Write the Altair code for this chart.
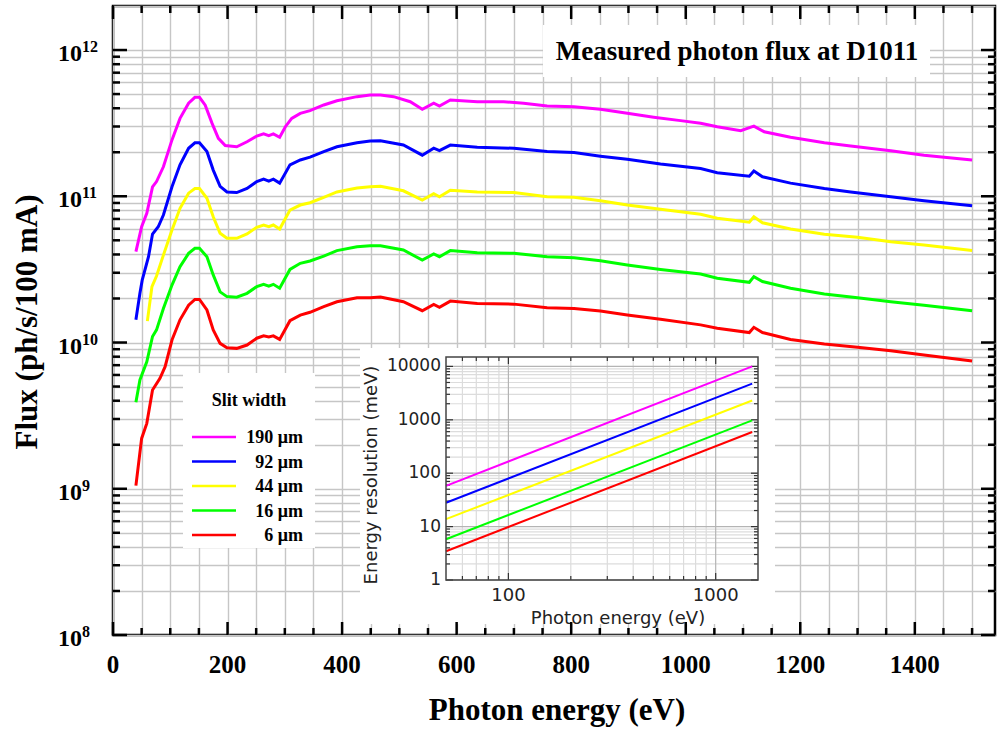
import altair as alt
import pandas as pd

# ---------------- data ----------------
slits = ["190 μm", "92 μm", "44 μm", "16 μm", "6 μm"]
colors = ["#ff00ff", "#0000ff", "#ffff00", "#00ff00", "#ff0000"]

e_190 = [40, 50, 59, 69, 76, 88, 103, 117, 132, 143, 151, 161, 173, 184, 196, 216, 234, 251, 263, 272,
         280, 291, 301, 312, 327, 344, 368, 391, 426, 449, 467, 490, 519, 540, 560, 570, 589, 636, 682, 717,
         758, 805, 851, 898, 944, 991, 1026, 1055, 1096, 1119, 1137, 1183, 1242, 1288, 1358, 1416, 1500]
f_190 = [4.18e10, 6.19e10, 7.65e10, 1.16e11, 1.26e11, 1.59e11, 2.43e11, 3.41e11, 4.33e11, 4.75e11,
         4.75e11, 4.20e11, 3.15e11, 2.49e11, 2.22e11, 2.18e11, 2.36e11, 2.58e11, 2.67e11, 2.60e11,
         2.67e11, 2.53e11, 2.99e11, 3.41e11, 3.69e11, 3.85e11, 4.21e11, 4.50e11, 4.80e11, 4.92e11,
         4.92e11, 4.80e11, 4.43e11, 3.93e11, 4.33e11, 4.14e11, 4.55e11, 4.43e11, 4.43e11, 4.33e11,
         4.14e11, 4.10e11, 3.93e11, 3.69e11, 3.47e11, 3.29e11, 3.16e11, 2.99e11, 2.81e11, 3.02e11,
         2.76e11, 2.53e11, 2.32e11, 2.21e11, 2.05e11, 1.91e11, 1.77e11]

e_92 = [40, 47, 51, 62, 69, 79, 88, 103, 117, 132, 143, 151, 164, 175, 187, 199, 216, 234, 251, 263,
        272, 280, 291, 309, 327, 344, 368, 391, 426, 449, 467, 507, 540, 560, 570, 589, 636, 700, 758, 805,
        851, 898, 956, 1026, 1055, 1111, 1119, 1134, 1183, 1242, 1288, 1358, 1416, 1500]
f_92 = [1.43e10, 2.17e10, 2.67e10, 3.86e10, 5.52e10, 6.19e10, 7.44e10, 1.16e11, 1.64e11, 2.13e11,
        2.32e11, 2.32e11, 2.02e11, 1.51e11, 1.17e11, 1.07e11, 1.06e11, 1.13e11, 1.26e11, 1.31e11,
        1.27e11, 1.31e11, 1.23e11, 1.64e11, 1.77e11, 1.85e11, 2.02e11, 2.18e11, 2.32e11, 2.39e11,
        2.40e11, 2.24e11, 1.91e11, 2.13e11, 2.05e11, 2.24e11, 2.16e11, 2.13e11, 2.02e11, 1.99e11,
        1.88e11, 1.79e11, 1.66e11, 1.55e11, 1.45e11, 1.37e11, 1.49e11, 1.36e11, 1.23e11, 1.13e11,
        1.07e11, 9.93e10, 9.33e10, 8.61e10]

e_44 = [60, 68, 76, 88, 103, 117, 132, 143, 151, 164, 175, 187, 199, 216, 234, 251, 263, 272, 280, 291,
        309, 327, 344, 368, 391, 426, 449, 467, 507, 540, 560, 570, 589, 636, 700, 758, 805, 851, 898, 956,
        1026, 1055, 1111, 1119, 1134, 1183, 1242, 1300, 1358, 1416, 1500]
f_44 = [1.40e10, 2.41e10, 2.85e10, 3.96e10, 5.87e10, 8.27e10, 1.05e11, 1.13e11, 1.13e11, 9.68e10,
        7.24e10, 5.58e10, 5.16e10, 5.16e10, 5.52e10, 6.14e10, 6.36e10, 6.19e10, 6.36e10, 5.97e10,
        8.05e10, 8.71e10, 9.03e10, 9.84e10, 1.07e11, 1.14e11, 1.16e11, 1.17e11, 1.09e11, 9.42e10,
        1.04e11, 9.93e10, 1.10e11, 1.07e11, 1.06e11, 9.93e10, 9.84e10, 9.33e10, 8.71e10, 8.14e10,
        7.53e10, 7.07e10, 6.64e10, 7.24e10, 6.59e10, 5.97e10, 5.49e10, 5.24e10, 4.89e10, 4.64e10,
        4.25e10]

e_16 = [40, 47, 59, 69, 76, 88, 103, 117, 132, 143, 151, 164, 175, 187, 199, 216, 234, 251, 263, 272,
        280, 291, 309, 327, 344, 368, 391, 426, 449, 467, 507, 540, 560, 570, 589, 636, 700, 758, 805, 851,
        898, 956, 1026, 1055, 1111, 1119, 1134, 1183, 1242, 1300, 1358, 1416, 1500]
f_16 = [3.90e9, 5.54e9, 7.39e9, 1.10e10, 1.22e10, 1.71e10, 2.47e10, 3.30e10, 4.07e10, 4.41e10,
        4.41e10, 3.86e10, 2.90e10, 2.22e10, 2.06e10, 2.04e10, 2.17e10, 2.41e10, 2.50e10, 2.43e10,
        2.50e10, 2.35e10, 3.16e10, 3.48e10, 3.61e10, 3.90e10, 4.25e10, 4.52e10, 4.59e10, 4.59e10,
        4.29e10, 3.66e10, 4.03e10, 3.86e10, 4.25e10, 4.11e10, 4.07e10, 3.86e10, 3.80e10, 3.62e10,
        3.39e10, 3.16e10, 2.94e10, 2.75e10, 2.58e10, 2.82e10, 2.61e10, 2.35e10, 2.15e10, 2.02e10,
        1.90e10, 1.80e10, 1.65e10]

e_6 = [40, 50, 59, 69, 82, 91, 103, 117, 132, 143, 151, 164, 175, 187, 199, 216, 234, 251, 263, 272,
       280, 291, 309, 327, 344, 368, 391, 426, 449, 467, 507, 540, 560, 570, 589, 636, 700, 758, 805, 851,
       898, 956, 1026, 1055, 1111, 1119, 1134, 1183, 1242, 1300, 1358, 1416, 1500]
f_6 = [1.05e9, 2.21e9, 2.80e9, 4.73e9, 5.69e9, 6.84e9, 1.04e10, 1.43e10, 1.80e10, 1.97e10,
       1.97e10, 1.67e10, 1.22e10, 9.87e9, 9.21e9, 9.12e9, 9.61e9, 1.07e10, 1.11e10, 1.09e10,
       1.11e10, 1.05e10, 1.41e10, 1.54e10, 1.61e10, 1.76e10, 1.90e10, 2.02e10, 2.02e10, 2.05e10,
       1.90e10, 1.65e10, 1.82e10, 1.74e10, 1.92e10, 1.85e10, 1.83e10, 1.73e10, 1.71e10, 1.64e10,
       1.54e10, 1.44e10, 1.32e10, 1.25e10, 1.17e10, 1.27e10, 1.17e10, 1.05e10, 9.77e9, 9.27e9,
       8.79e9, 8.22e9, 7.47e9]

# inset: energy resolution (meV) vs photon energy (eV)
inset_energy = [50, 1500]
res_190 = [58, 10000]
res_92 = [28, 4750]
res_44 = [13.8, 2300]
res_16 = [5.8, 975]
res_6 = [3.45, 590]

# axis ticks / labels
x_major = [0, 200, 400, 600, 800, 1000, 1200, 1400]
x_minor = [50, 100, 150, 250, 300, 350, 450, 500, 550, 650, 700, 750, 850, 900, 950,
           1050, 1100, 1150, 1250, 1300, 1350, 1450, 1500]
x_grid = sorted(x_major + x_minor)
y_major = [1e8, 1e9, 1e10, 1e11, 1e12]
y_exp = ["8", "9", "10", "11", "12"]
y_minor = [m * d for d in [1e8, 1e9, 1e10, 1e11] for m in range(2, 10)]
y_grid = sorted(y_major + y_minor + [2e12])

in_x_major = [100, 1000]
in_x_minor = [60, 70, 80, 90, 200, 300, 400, 500, 600, 700, 800, 900]
in_y_major = [1, 10, 100, 1000, 10000]
in_y_labels = ["1", "10", "100", "1000", "10000"]
in_y_minor = [m * d for d in [1, 10, 100, 1000] for m in range(2, 10)]

# ---------------- layout constants ----------------
W, H = 882, 629
SERIF = "Liberation Serif"
SANS = "DejaVu Sans"
GRID = "#c6c6c6"
X_DOMAIN = [0, 1540]
Y_DOMAIN = [1e8, 2e12]

color_enc = alt.Color("slit:N", scale=alt.Scale(domain=slits, range=colors), legend=None)

x_axis = alt.Axis(values=x_grid, grid=True, gridColor=GRID, gridWidth=1.4, labels=False,
                  ticks=False, domain=False, title=None)
y_axis = alt.Axis(values=y_grid, grid=True, gridColor=GRID, gridWidth=1.4, labels=False,
                  ticks=False, domain=False, title=None)


def XM():
    return alt.X("energy:Q", scale=alt.Scale(domain=X_DOMAIN, nice=False, zero=False), axis=x_axis)


def YM():
    return alt.Y("flux:Q", scale=alt.Scale(type="log", domain=Y_DOMAIN, nice=False), axis=y_axis)


def XT():
    return alt.X("tx:Q", scale=alt.Scale(domain=X_DOMAIN, nice=False, zero=False), axis=None)


def YT():
    return alt.Y("ty:Q", scale=alt.Scale(type="log", domain=Y_DOMAIN, nice=False), axis=None)


curves = pd.concat([
    pd.DataFrame({"slit": s, "energy": e, "flux": f})
    for s, e, f in zip(slits, [e_190, e_92, e_44, e_16, e_6], [f_190, f_92, f_44, f_16, f_6])
])

one = pd.DataFrame({"t": [""]})

lines = alt.Chart(curves).mark_line(strokeWidth=3).encode(
    x=XM(), y=YM(), color=color_enc, detail="slit:N")

x_labels = alt.Chart(pd.DataFrame({"energy": x_major})).mark_text(
    font=SERIF, fontWeight="bold", fontSize=25, baseline="alphabetic", align="center", color="black"
).encode(x=XM(), y=alt.value(667), text=alt.Text("energy:Q", format="d"))

ydf = pd.DataFrame({"flux": y_major, "exp": y_exp, "ten": ["10"] * len(y_major)})
y_ten = alt.Chart(ydf).mark_text(
    font=SERIF, fontWeight="bold", fontSize=24, baseline="alphabetic", align="left", dy=11, color="black"
).encode(y=YM(), x=alt.value(-55), text="ten:N")
y_sup = alt.Chart(ydf).mark_text(
    font=SERIF, fontWeight="bold", fontSize=16, baseline="alphabetic", align="left", dy=2, color="black"
).encode(y=YM(), x=alt.value(-31), text="exp:N")

x_title = alt.Chart(pd.DataFrame({"t": ["Photon energy (eV)"]})).mark_text(
    font=SERIF, fontWeight="bold", fontSize=31, baseline="alphabetic", align="center", color="black"
).encode(x=alt.value(444), y=alt.value(714), text="t:N")
y_title = alt.Chart(pd.DataFrame({"t": ["Flux (ph/s/100 mA)"]})).mark_text(
    font=SERIF, fontWeight="bold", fontSize=31, baseline="alphabetic", align="center", angle=270,
    color="black"
).encode(x=alt.value(-76), y=alt.value(316), text="t:N")

title_box = alt.Chart(one).mark_rect(color="white").encode(
    x=alt.value(430), x2=alt.value(817), y=alt.value(19), y2=alt.value(71))
title_text = alt.Chart(pd.DataFrame({"t": ["Measured photon flux at D1011"]})).mark_text(
    font=SERIF, fontWeight="bold", fontSize=27, baseline="alphabetic", align="center", color="black"
).encode(x=alt.value(624), y=alt.value(54), text="t:N")

main = alt.layer(lines, x_labels, y_ten, y_sup, x_title, y_title, title_box, title_text)

# ---------------- frame ticks (inward, on all four sides) ----------------
TICK = "#000000"


def xticks(vals, y0, y1):
    return alt.Chart(pd.DataFrame({"tx": vals})).mark_rule(color=TICK, strokeWidth=2.5).encode(
        x=XT(), y=alt.value(y0), y2=alt.value(y1))


def yticks(vals, x0, x1):
    return alt.Chart(pd.DataFrame({"ty": vals})).mark_rule(color=TICK, strokeWidth=2.5).encode(
        y=YT(), x=alt.value(x0), x2=alt.value(x1))


frame_ticks = alt.layer(
    xticks(x_major, H, H - 13), xticks(x_minor, H, H - 7),
    xticks(x_major, 0, 13), xticks(x_minor, 0, 7),
    yticks(y_major, 0, 14), yticks(y_minor, 0, 7),
    yticks(y_major, W, W - 14), yticks(y_minor, W, W - 7),
)

# ---------------- inset ----------------
IX0, IX1 = 333, 645
IY0, IY1 = 574, 351


def XI():
    return alt.X("ie:Q", scale=alt.Scale(type="log", domain=[50, 1600], range=[IX0, IX1], nice=False),
                 axis=None)


def YI():
    return alt.Y("ir:Q", scale=alt.Scale(type="log", domain=[1, 15000], range=[IY0, IY1], nice=False),
                 axis=None)


inset_df = pd.concat([
    pd.DataFrame({"slit": s, "ie": inset_energy, "ir": r})
    for s, r in zip(slits, [res_190, res_92, res_44, res_16, res_6])
])

in_bg = alt.Chart(one).mark_rect(color="white").encode(
    x=alt.value(247), x2=alt.value(662), y=alt.value(342), y2=alt.value(618))


def in_vgrid(vals, col):
    return alt.Chart(pd.DataFrame({"ie": vals})).mark_rule(color=col, strokeWidth=1.2).encode(
        x=XI(), y=alt.value(IY0), y2=alt.value(IY1))


def in_hgrid(vals, col):
    return alt.Chart(pd.DataFrame({"ir": vals})).mark_rule(color=col, strokeWidth=1.2).encode(
        y=YI(), x=alt.value(IX0), x2=alt.value(IX1))


def in_xt(vals, y0, y1):
    return alt.Chart(pd.DataFrame({"ie": vals})).mark_rule(color="#333333", strokeWidth=1.2).encode(
        x=XI(), y=alt.value(y0), y2=alt.value(y1))


def in_yt(vals, x0, x1):
    return alt.Chart(pd.DataFrame({"ir": vals})).mark_rule(color="#333333", strokeWidth=1.2).encode(
        y=YI(), x=alt.value(x0), x2=alt.value(x1))


in_lines = alt.Chart(inset_df).mark_line(strokeWidth=2).encode(
    x=XI(), y=YI(), color=color_enc, detail="slit:N")
in_frame = alt.Chart(one).mark_rect(filled=False, stroke="#444444", strokeWidth=1.5).encode(
    x=alt.value(IX0), x2=alt.value(IX1), y=alt.value(IY1), y2=alt.value(IY0))
in_xlab = alt.Chart(pd.DataFrame({"ie": in_x_major})).mark_text(
    font=SANS, fontSize=18, baseline="alphabetic", align="center", color="#222222"
).encode(x=XI(), y=alt.value(595), text=alt.Text("ie:Q", format="d"))
in_ylab = alt.Chart(pd.DataFrame({"ir": in_y_major, "lab": in_y_labels})).mark_text(
    font=SANS, fontSize=17, baseline="middle", align="right", color="#222222"
).encode(y=YI(), x=alt.value(328), text="lab:N")
in_xtitle = alt.Chart(pd.DataFrame({"t": ["Photon energy (eV)"]})).mark_text(
    font=SANS, fontSize=18, baseline="alphabetic", align="center", color="#222222"
).encode(x=alt.value(505), y=alt.value(618), text="t:N")
in_ytitle = alt.Chart(pd.DataFrame({"t": ["Energy resolution (meV)"]})).mark_text(
    font=SANS, fontSize=18, baseline="alphabetic", align="center", angle=270, color="#222222"
).encode(x=alt.value(264), y=alt.value(469), text="t:N")

inset = alt.layer(
    in_bg,
    in_vgrid(in_x_minor, "#dcdcdc"), in_hgrid(in_y_minor, "#dcdcdc"),
    in_vgrid(in_x_major, "#b4b4b4"), in_hgrid(in_y_major, "#b4b4b4"),
    in_xt(in_x_minor, IY0, IY0 - 4), in_xt(in_x_major, IY0, IY0 - 7),
    in_xt(in_x_minor, IY1, IY1 + 4), in_xt(in_x_major, IY1, IY1 + 7),
    in_yt(in_y_minor, IX0, IX0 + 4), in_yt(in_y_major, IX0, IX0 + 7),
    in_yt(in_y_minor, IX1, IX1 - 4), in_yt(in_y_major, IX1, IX1 - 7),
    in_lines, in_frame, in_xlab, in_ylab, in_xtitle, in_ytitle,
)

# ---------------- legend ----------------
leg_df = pd.DataFrame({"slit": slits, "row": list(range(len(slits)))})
YL = alt.Y("row:Q", scale=alt.Scale(domain=[0, 4], range=[431, 529], nice=False, zero=False), axis=None)

leg_box = alt.Chart(one).mark_rect(color="white").encode(
    x=alt.value(70), x2=alt.value(202), y=alt.value(367), y2=alt.value(542))
leg_title = alt.Chart(pd.DataFrame({"t": ["Slit width"]})).mark_text(
    font=SERIF, fontWeight="bold", fontSize=18, baseline="alphabetic", align="center", color="black"
).encode(x=alt.value(136), y=alt.value(400), text="t:N")
leg_lines = alt.Chart(leg_df).mark_rule(strokeWidth=2.5).encode(
    x=alt.value(79), x2=alt.value(123), y=YL, color=color_enc)
leg_text = alt.Chart(leg_df).mark_text(
    font=SERIF, fontWeight="bold", fontSize=18, baseline="alphabetic", align="right", dy=6, color="black"
).encode(x=alt.value(190), y=YL, text="slit:N")

legend = alt.layer(leg_box, leg_title, leg_lines, leg_text)

chart = alt.layer(main, inset, legend, frame_ticks).resolve_scale(
    x="independent", y="independent"
).properties(
    width=W, height=H,
    padding={"left": 113, "top": 6, "right": 5, "bottom": 96},
    autosize=alt.AutoSizeParams(type="none"),
    background="white",
).configure_view(stroke="black", strokeWidth=2.5)

chart.save("out.html", embed_options={"renderer": "svg", "actions": False})
